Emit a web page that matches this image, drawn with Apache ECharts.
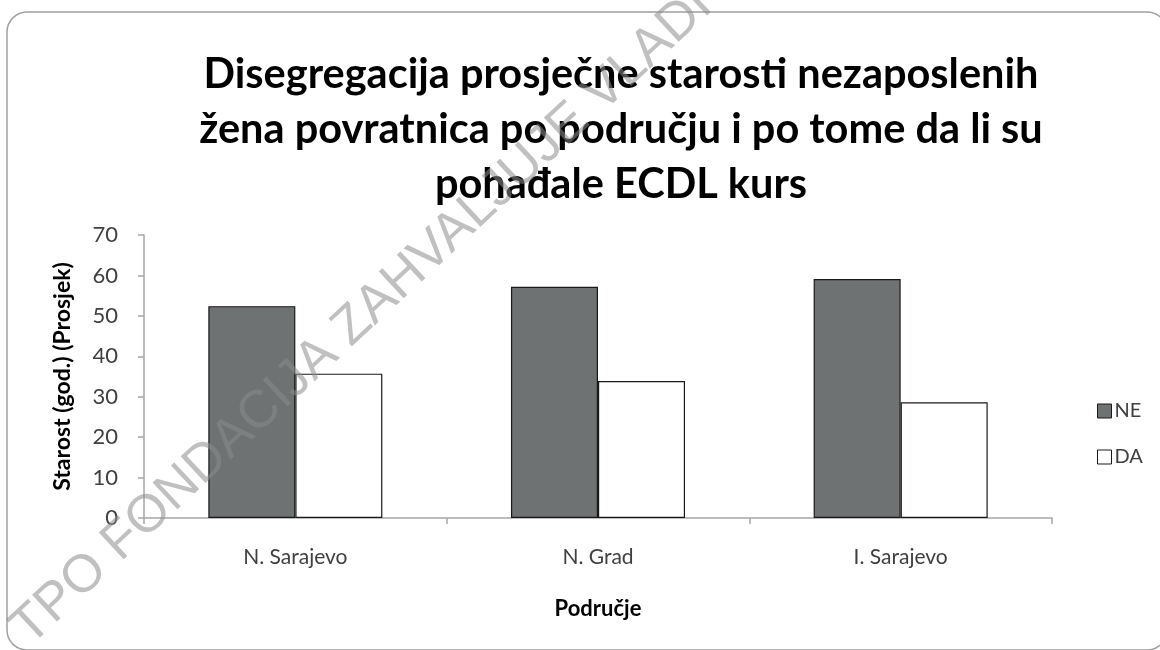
<!DOCTYPE html>
<html>
<head>
<meta charset="utf-8">
<script src="https://cdn.jsdelivr.net/npm/echarts@6/dist/echarts.min.js"></script>
<style>
html,body{margin:0;padding:0;background:#fff;}
#chart{width:1160px;height:650px;}
</style>
</head>
<body>
<div id="chart"></div>
<script>
var categories = ['N. Sarajevo', 'N. Grad', 'I. Sarajevo'];
var seriesNames = ['NE', 'DA'];
var valuesNE = [52.4, 57.2, 59.1];
var valuesDA = [35.7, 33.9, 28.6];
var titleText = 'Disegregacija prosječne starosti nezaposlenih\nžena povratnica po području i po tome da li su\npohađale ECDL kurs';
var yAxisName = 'Starost (god.) (Prosjek)';
var xAxisName = 'Područje';
var watermarkText = 'TPO FONDACIJA ZAHVALJUJE VLADI';

var chart = echarts.init(document.getElementById('chart'), null, {renderer: 'canvas'});
var FONT = 'Lato';
var option = {
  backgroundColor: '#ffffff',
  animation: false,
  title: {
    text: titleText,
    left: 616,
    top: 42,
    textAlign: 'center',
    textStyle: {fontFamily: FONT, fontWeight: 'bold', fontSize: 41.5, lineHeight: 55, color: '#000000'}
  },
  legend: {
    orient: 'vertical',
    left: 1092,
    top: 396,
    itemWidth: 14,
    itemHeight: 14,
    itemGap: 26,
    icon: 'rect',
    textStyle: {fontFamily: FONT, fontSize: 20, lineHeight: 20, color: '#404040', padding: [0,0,0,-2]},
    data: [
      {name: seriesNames[0], itemStyle: {color: '#6e7272', borderColor: '#1a1a1a', borderWidth: 1}},
      {name: seriesNames[1], itemStyle: {color: '#ffffff', borderColor: '#1a1a1a', borderWidth: 1}}
    ]
  },
  grid: {left: 144, right: 108, top: 235, bottom: 132, containLabel: false},
  xAxis: {
    type: 'category',
    data: categories,
    name: xAxisName,
    nameLocation: 'middle',
    nameGap: 80,
    nameTextStyle: {fontFamily: FONT, fontWeight: 'bold', fontSize: 22, color: '#000000'},
    axisLine: {lineStyle: {color: '#a6a6a6', width: 1.5}},
    axisTick: {show: true, length: 6, lineStyle: {color: '#a6a6a6', width: 1.5}},
    axisLabel: {fontFamily: FONT, fontSize: 21, color: '#404040', margin: 29}
  },
  yAxis: {
    type: 'value',
    min: 0,
    max: 70,
    interval: 10,
    name: yAxisName,
    nameLocation: 'middle',
    nameRotate: 90,
    nameGap: 70,
    nameTextStyle: {fontFamily: FONT, fontWeight: 'bold', fontSize: 23, color: '#000000'},
    axisLine: {show: true, lineStyle: {color: '#a6a6a6', width: 1.5}},
    axisTick: {show: true, length: 6, lineStyle: {color: '#a6a6a6', width: 1.5}},
    axisLabel: {fontFamily: FONT, fontSize: 22, color: '#404040', margin: 26},
    splitLine: {show: false}
  },
  series: [
    {
      name: seriesNames[0], type: 'bar', data: valuesNE,
      barGap: '0%', barCategoryGap: '42.5%',
      itemStyle: {color: '#6e7272', borderColor: '#1a1a1a', borderWidth: 1.2}
    },
    {
      name: seriesNames[1], type: 'bar', data: valuesDA,
      barGap: '0%', barCategoryGap: '42.5%',
      itemStyle: {color: '#ffffff', borderColor: '#1a1a1a', borderWidth: 1.2}
    }
  ],
  graphic: [
    {
      type: 'rect', z: -10, silent: true,
      shape: {x: 7, y: 12, width: 1160, height: 638, r: 20},
      style: {fill: 'none', stroke: '#a0a0a0', lineWidth: 1.5}
    },
    {
      type: 'text', z: 100, silent: true,
      x: 20, y: 636,
      rotation: 43 * Math.PI / 180,
      style: {
        text: watermarkText,
        fontFamily: 'Liberation Sans', fontSize: 53,
        fill: 'rgba(140,140,140,0.55)',
        textAlign: 'left', textVerticalAlign: 'middle'
      }
    }
  ]
};
chart.setOption(option);
</script>
</body>
</html>
